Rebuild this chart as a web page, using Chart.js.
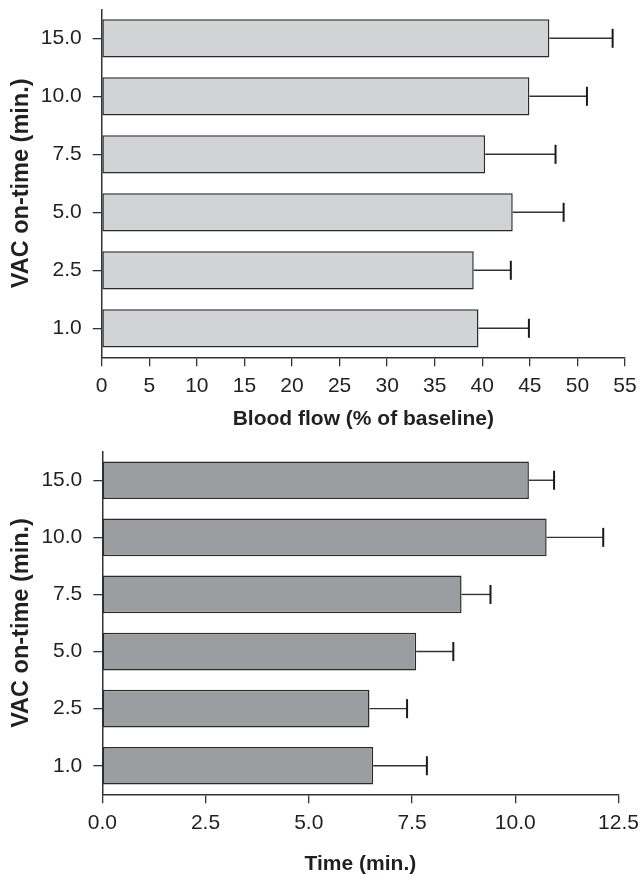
<!DOCTYPE html>
<html>
<head>
<meta charset="utf-8">
<script src="https://cdn.jsdelivr.net/npm/chart.js@4"></script>
<style>
  html, body { margin: 0; padding: 0; background: #fff; overflow: hidden; }
  canvas { position: absolute; left: 0; }
  #flowChart { top: 0; }
  #timeChart { top: 440px; }
</style>
</head>
<body>
<canvas id="flowChart" width="641" height="440"></canvas>
<canvas id="timeChart" width="641" height="435"></canvas>
<script>
// VAC on-time categories (bottom to top)
const categories = ['1.0', '2.5', '5.0', '7.5', '10.0', '15.0'];

// blood flow, % of baseline
const flowMeans = [39.6, 39.1, 43.2, 40.3, 44.95, 47.05];
const flowErrors = [5.3, 3.9, 5.35, 7.4, 6.05, 6.65];
const flowTicks = [0, 5, 10, 15, 20, 25, 30, 35, 40, 45, 50, 55];

// time, min.
const timeMeans = [6.56, 6.47, 7.6, 8.7, 10.76, 10.33];
const timeErrors = [1.3, 0.91, 0.9, 0.7, 1.37, 0.61];
const timeTicks = [0, 2.5, 5, 7.5, 10, 12.5];

const FONT = "'Liberation Sans', Arial, Helvetica, sans-serif";
const INK = '#231f20';

// draws the +SD whiskers for each bar
const errorBars = {
  id: 'errorBars',
  afterDatasetsDraw(chart, args, opts) {
    const ctx = chart.ctx;
    const xs = chart.scales.x;
    const meta = chart.getDatasetMeta(0);
    const values = chart.data.datasets[0].data;
    meta.data.forEach((bar, i) => {
      const xEnd = xs.getPixelForValue(values[i] + opts.errors[i]);
      ctx.save();
      ctx.strokeStyle = '#333';
      ctx.lineWidth = 1.4;
      ctx.beginPath();
      ctx.moveTo(bar.x, bar.y);
      ctx.lineTo(xEnd, bar.y);
      ctx.stroke();
      ctx.strokeStyle = '#1a1a1a';
      ctx.lineWidth = 2;
      ctx.beginPath();
      ctx.moveTo(xEnd, bar.y - 9.5);
      ctx.lineTo(xEnd, bar.y + 9.5);
      ctx.stroke();
      ctx.restore();
    });
  }
};

function makeChart(id, means, errors, ticks, fill, xTitle, box) {
  new Chart(document.getElementById(id), {
    type: 'bar',
    data: {
      labels: categories,
      datasets: [{
        data: means,
        backgroundColor: fill,
        borderColor: '#2b2b2b',
        borderWidth: 1.5,
        borderSkipped: false,
        barPercentage: 0.66,
        categoryPercentage: 1
      }]
    },
    options: {
      indexAxis: 'y',
      responsive: false,
      animation: false,
      events: [],
      layout: { padding: { top: box.top, right: box.right, left: 0, bottom: 0 } },
      plugins: {
        legend: { display: false },
        tooltip: { enabled: false },
        errorBars: { errors: errors }
      },
      scales: {
        x: {
          min: ticks[0],
          max: ticks[ticks.length - 1],
          afterBuildTicks: s => { s.ticks = ticks.map(v => ({ value: v })); },
          afterFit: s => { s.height = box.xHeight; s.paddingLeft = 0; s.paddingRight = 0; },
          grid: { drawOnChartArea: false, drawTicks: true, tickLength: 9, color: '#333', lineWidth: 1.3 },
          border: { color: '#333', width: 1.5 },
          ticks: {
            color: INK,
            padding: 7,
            maxRotation: 0,
            font: { family: FONT, size: 21 },
            callback: v => box.decimals ? v.toFixed(1) : String(v)
          },
          title: {
            display: true,
            text: xTitle,
            color: INK,
            font: { family: FONT, size: 21, weight: 'bold', lineHeight: box.titleLH },
            padding: { top: 0, bottom: box.titlePad }
          }
        },
        y: {
          reverse: true,
          offset: true,
          afterFit: s => { s.width = box.left; s.paddingTop = 0; s.paddingBottom = 0; },
          grid: { drawOnChartArea: false, offset: false, drawTicks: true, tickLength: 9, color: '#333', lineWidth: 1.3 },
          border: { color: '#333', width: 1.5 },
          ticks: {
            color: INK,
            padding: 11,
            font: { family: FONT, size: 21 }
          },
          title: {
            display: true,
            text: 'VAC on-time (min.)',
            color: INK,
            font: { family: FONT, size: 23.5, weight: 'bold', lineHeight: 1.2 },
            padding: { top: 7.6, bottom: 0 }
          }
        }
      }
    },
    plugins: [errorBars]
  });
}

makeChart('flowChart', flowMeans, flowErrors, flowTicks, '#d1d3d4', 'Blood flow (% of baseline)',
  { top: 9.3, right: 16, left: 101.7, xHeight: 82.7, titleLH: 1.2, titlePad: 8.4, decimals: false });
makeChart('timeChart', timeMeans, timeErrors, timeTicks, '#9c9da0', 'Time (min.)',
  { top: 11.7, right: 22.5, left: 102.3, xHeight: 80.7, titleLH: 1, titlePad: 0, decimals: true });
</script>
</body>
</html>
